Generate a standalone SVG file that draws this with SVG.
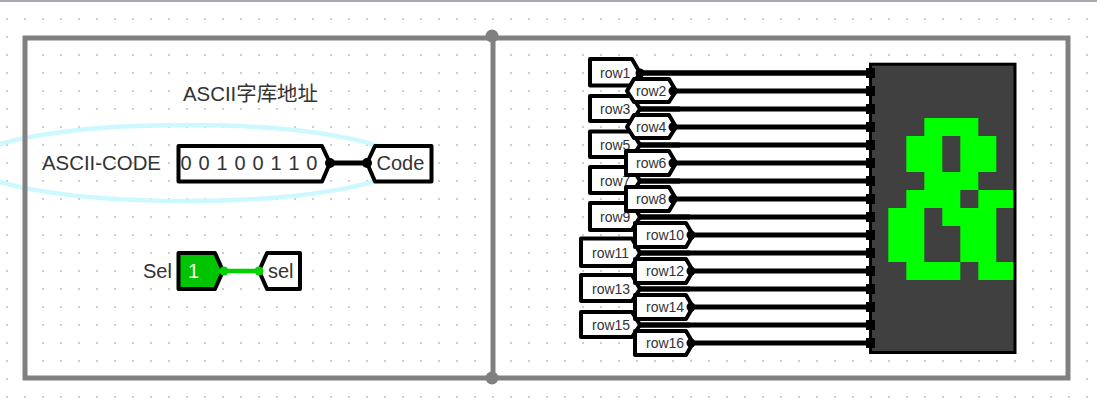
<svg xmlns="http://www.w3.org/2000/svg" width="1097" height="404" viewBox="0 0 1097 404">
<style>
text{font-family:"Liberation Sans","Noto Sans CJK SC",sans-serif;fill:#333}
.t{font-size:14px}
.l{font-size:20px}
.b{font-size:20.400px}
.tun{fill:#fff;stroke:#000;stroke-width:4;stroke-linejoin:round}
.w{stroke:#000;stroke-width:5;fill:none}
.frame{fill:none;stroke:#808080;stroke-width:5}
</style>
<defs>
<pattern id="grid" x="-2" y="10" width="18" height="18" patternUnits="userSpaceOnUse"><circle cx="9" cy="9" r="0.8" fill="#909090"/></pattern>
</defs>
<rect width="1097" height="404" fill="#fff"/>
<rect x="0" y="0" width="1097" height="2" fill="#a8a8b0"/>
<rect x="0" y="10" width="1097" height="394" fill="url(#grid)"/>
<ellipse id="highlight" cx="186" cy="163" rx="214" ry="38" fill="none" stroke="#ccf9ff" stroke-width="4.500"/>
<g id="frame">
<path class="frame" d="M25 38H1068V378H25ZM493 38V378"/>
<circle cx="492" cy="36" r="6.500" fill="#808080"/><circle cx="492" cy="378" r="6.500" fill="#808080"/>
</g>
<text id="title" class="b" x="183" y="101">ASCII字库地址</text>
<g id="ascii-pin">
<text class="b" x="42" y="170">ASCII-CODE</text>
<path class="tun" d="M178.500 146H322L330 163L322 181.500H178.500Z"/>
<text class="l" x="180.500" y="170" word-spacing="1.300">0 0 1 0 0 1 1 0</text>
</g>
<g id="code-tunnel">
<path class="tun" d="M431.500 146H375L367 163L375 181.500H431.500Z"/>
<text class="l" x="376.500" y="170">Code</text>
</g>
<g id="sel-pin">
<text class="l" x="143" y="278">Sel</text>
<path d="M178.500 253H215L223 271L215 289H178.500Z" fill="#00c400" stroke="#000" stroke-width="4" stroke-linejoin="round"/>
<text class="l" x="188" y="278" style="fill:#fff">1</text>
</g>
<g id="sel-tunnel">
<path class="tun" d="M300 253H267L259 271L267 289H300Z"/>
<text class="l" x="268" y="278">sel</text>
</g>
<g id="connectors">
<path d="M330 163H367" stroke="#000" stroke-width="5"/>
<circle cx="330" cy="163" r="5"/><circle cx="367" cy="163" r="5"/>
<path d="M223 271H259" stroke="#00d200" stroke-width="4.500"/>
<circle cx="224" cy="271" r="4.500" fill="#00d200"/><circle cx="259" cy="271" r="4.500" fill="#00d200"/>
</g>
<g id="wires-odd">
<path class="w" d="M640 73H871M640 109H871M640 145H871M640 181H871M640 217H871M640 253H871M640 289H871M640 325H871"/>
</g>
<g id="row1"><path class="tun" d="M590 59H632L640 73L632 85.500H590Z"/><text class="t" x="600" y="78">row1</text></g>
<g id="row3"><path class="tun" d="M590 96H632L640 109L632 121H590Z"/><text class="t" x="600" y="114">row3</text></g>
<g id="row5"><path class="tun" d="M590 131.500H632L640 145L632 157H590Z"/><text class="t" x="600" y="150">row5</text></g>
<g id="row7"><path class="tun" d="M590 167H632L640 181L632 193H590Z"/><text class="t" x="600" y="186">row7</text></g>
<g id="row9"><path class="tun" d="M590 203H632L640 217L632 230H590Z"/><text class="t" x="600" y="222">row9</text></g>
<g id="row11"><path class="tun" d="M581 238.500H632L640 253L632 266H581Z"/><text class="t" x="592" y="258">row11</text></g>
<g id="row13"><path class="tun" d="M581 275H632L640 289L632 301H581Z"/><text class="t" x="592" y="294">row13</text></g>
<g id="row15"><path class="tun" d="M581 312H632L640 325L632 337H581Z"/><text class="t" x="592" y="330">row15</text></g>
<g id="row2"><path class="tun" d="M634 79H669L676 91L669 102H634L627 91Z"/><text class="t" x="636" y="96">row2</text></g>
<g id="row4"><path class="tun" d="M634 115H669L676 127L669 138H634L627 127Z"/><text class="t" x="636" y="132">row4</text></g>
<g id="row6"><path class="tun" d="M626 151H669L676 163L669 175H626Z"/><text class="t" x="636" y="168">row6</text></g>
<g id="row8"><path class="tun" d="M626 187H669L676 199L669 211H626Z"/><text class="t" x="636" y="204">row8</text></g>
<g id="row10"><path class="tun" d="M635 223H686L693 235L686 247H635Z"/><text class="t" x="646" y="240">row10</text></g>
<g id="row12"><path class="tun" d="M635 259H686L693 271L686 283H635Z"/><text class="t" x="646" y="276">row12</text></g>
<g id="row14"><path class="tun" d="M635 295H686L693 307L686 319H635Z"/><text class="t" x="646" y="312">row14</text></g>
<g id="row16"><path class="tun" d="M635 331H686L693 343L686 355H635Z"/><text class="t" x="646" y="348">row16</text></g>
<g id="wires-even">
<path class="w" d="M676 91H871M676 127H871M676 163H871M676 199H871M693 235H871M693 271H871M693 307H871M693 343H871"/>
<path class="w" d="M640 73H871M640 109H680M640 145H680M640 181H680M640 217H690M640 253H690M640 289H690M640 325H690"/>
<g fill="#000"><circle cx="640" cy="73" r="4.500"/><circle cx="673" cy="91" r="4.500"/><circle cx="673" cy="127" r="4.500"/><circle cx="673" cy="163" r="4.500"/><circle cx="673" cy="199" r="4.500"/><circle cx="691" cy="235" r="4.500"/><circle cx="691" cy="271" r="4.500"/><circle cx="691" cy="307" r="4.500"/><circle cx="691" cy="343" r="4.500"/></g>
</g>
<g id="display">
<rect x="870.500" y="64.200" width="144.500" height="288.300" fill="#404040" stroke="#000" stroke-width="3"/>
<path fill="#000" d="M866 68h9v10h-9zM866 86h9v10h-9zM866 104h9v10h-9zM866 122h9v10h-9zM866 140h9v10h-9zM866 158h9v10h-9zM866 176h9v10h-9zM866 194h9v10h-9zM866 212h9v10h-9zM866 230h9v10h-9zM866 248h9v10h-9zM866 266h9v10h-9zM866 284h9v10h-9zM866 302h9v10h-9zM866 320h9v10h-9zM866 338h9v10h-9z"/>
<path fill="#00ff00" fill-rule="evenodd" d="M924.300 118H978.300V136H996.300V172H978.300V190H924.300V172H906.300V136H924.300ZM942.300 136V172H960.300V136Z"/>
<path fill="#00ff00" d="M906.300 190H960.300V208H978.300V190H1013.300V208H996.300V262H1013.300V280H978.300V262H960.300V226H942.300V208H924.300V262H960.300V280H906.300V262H888.300V208H906.300Z"/>
</g>
</svg>
